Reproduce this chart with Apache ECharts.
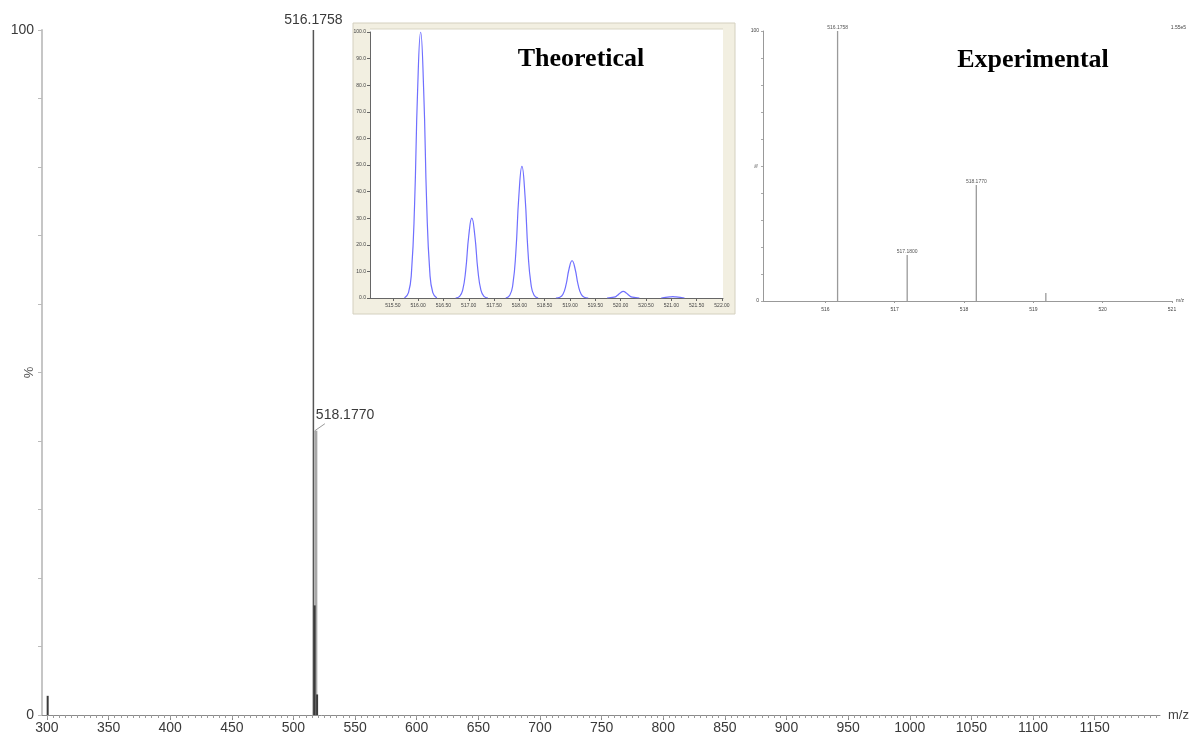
<!DOCTYPE html>
<html><head><meta charset="utf-8">
<script src="https://cdn.jsdelivr.net/npm/echarts@6/dist/echarts.min.js"></script>
<style>html,body{margin:0;padding:0;background:#fff}#c{width:1198px;height:738px}</style>
</head><body><div id="c"></div>
<script>
// ---------- Main spectrum ----------
const mainXTicks = [300,350,400,450,500,550,600,650,700,750,800,850,900,950,1000,1050,1100,1150];
const mainYLabels = [0,100];
const mainPeaks = [[300.6,2.8],[518.1770,41.5],[516.1758,100],[517.1800,16],[519.18,3]];
const mainLabeled = [516.1758,518.1770];

// ---------- Theoretical inset ----------
const theoXTicks = [515.5,516,516.5,517,517.5,518,518.5,519,519.5,520,520.5,521,521.5,522];
const theoYTicks = [0,10,20,30,40,50,60,70,80,90,100];
const theoPeak1 = [[515.73,0],[515.81,2],[515.87,10],[515.93,35],[515.99,78],[516.05,100],[516.11,78],[516.17,35],[516.23,10],[516.29,2],[516.37,0]];
const theoPeak2 = [[516.74,0],[516.82,0.6],[516.88,3],[516.94,10.5],[517.00,23.4],[517.06,30],[517.12,23.4],[517.18,10.5],[517.24,3],[517.30,0.6],[517.38,0]];
const theoPeak3 = [[517.73,0],[517.81,1],[517.87,5],[517.93,17.3],[517.99,38.6],[518.05,49.5],[518.11,38.6],[518.17,17.3],[518.23,5],[518.29,1],[518.37,0]];
const theoPeak4 = [[518.72,0],[518.80,0.3],[518.86,1.4],[518.92,4.9],[518.98,10.9],[519.04,14],[519.10,10.9],[519.16,4.9],[519.22,1.4],[519.28,0.3],[519.36,0]];
const theoPeak5 = [[519.73,0],[519.87,0.3],[519.93,0.9],[519.99,1.9],[520.05,2.5],[520.11,1.9],[520.17,0.9],[520.23,0.3],[520.37,0]];
const theoPeak6 = [[520.80,0],[520.97,0.4],[521.03,0.5],[521.09,0.4],[521.26,0]];

// ---------- Experimental inset ----------
const expXTicks = [516,517,518,519,520,521];
const expYTicks = [0,10,20,30,40,50,60,70,80,90,100];
const expYLabels = [0,100];
const expPeaks = [[516.1758,100],[517.1800,17],[518.1770,43],[519.18,3]];
const expLabeled = [516.1758,517.1800,518.1770];
const expScaleText = '1.55e5';

const mainMinor = [];
for (let v = 300; v <= 1200; v += 5) mainMinor.push(v);

const SANS = 'Liberation Sans, Arial, sans-serif';
const SERIF = 'Liberation Serif, Times New Roman, serif';

function mainStyle(mz) {
  if (Math.abs(mz - 518.177) < 0.01) return {stroke:'#a8a8a8', lineWidth:3};
  if (Math.abs(mz - 516.1758) < 0.01) return {stroke:'#555', lineWidth:1.5};
  return {stroke:'#3a3a3a', lineWidth:2};
}

const chart = echarts.init(document.getElementById('c'), null, {renderer:'canvas'});
const theoPeaks = [theoPeak1,theoPeak2,theoPeak3,theoPeak4,theoPeak5,theoPeak6];

chart.setOption({
  animation:false,
  backgroundColor:'#fff',
  grid:[
    {left:42, top:30, width:1118, height:685, containLabel:false, outerBoundsMode:'none'},
    {left:370, top:32, width:353, height:266, containLabel:false, outerBoundsMode:'none'},
    {left:763, top:31, width:409, height:270, containLabel:false, outerBoundsMode:'none'}
  ],
  graphic:[
    {type:'rect', z:-10, shape:{x:353,y:23,width:382,height:291}, style:{fill:'#F2EFE1', stroke:'#d4d0bf', lineWidth:1}},
    {type:'rect', z:-9, shape:{x:370,y:29,width:353,height:269}, style:{fill:'#fff'}},
    {type:'line', z:-8, shape:{x1:370,y1:29,x2:723,y2:29}, style:{stroke:'#d9d5c3', lineWidth:1}},
    {type:'text', x:581, y:59, style:{text:'Theoretical', font:'bold 26px '+SERIF, fill:'#000', align:'center', verticalAlign:'middle'}},
    {type:'text', x:1033, y:60, style:{text:'Experimental', font:'bold 26px '+SERIF, fill:'#000', align:'center', verticalAlign:'middle'}},
    {type:'text', x:1186, y:28, style:{text:expScaleText, font:'5px '+SANS, fill:'#444', align:'right', verticalAlign:'middle'}}
  ],
  xAxis:[
    {type:'value', gridIndex:0, min:296, max:1203, position:'bottom',
     axisLine:{onZero:false, lineStyle:{color:'#8a8a8a', width:1}},
     axisTick:{customValues:mainXTicks, length:5, lineStyle:{color:'#8a8a8a'}},
     axisLabel:{customValues:mainXTicks, fontSize:14, color:'#3a3a3a', fontFamily:SANS, margin:6, formatter:v=>String(v)},
     splitLine:{show:false},
     name:'m/z', nameLocation:'end', nameGap:8, nameTextStyle:{fontSize:13, color:'#444', fontFamily:SANS}},
    {type:'value', gridIndex:0, min:296, max:1203, position:'bottom',
     axisLine:{show:false, onZero:false},
     axisTick:{customValues:mainMinor, length:3, lineStyle:{color:'#9a9a9a'}},
     axisLabel:{show:false}, splitLine:{show:false}},
    {type:'value', gridIndex:1, min:515.05, max:522.02, position:'bottom',
     axisLine:{onZero:false, lineStyle:{color:'#666', width:1}},
     axisTick:{customValues:theoXTicks, length:3, lineStyle:{color:'#666'}},
     axisLabel:{customValues:theoXTicks, fontSize:5, color:'#444', fontFamily:SANS, margin:5, formatter:v=>v.toFixed(2)},
     splitLine:{show:false}},
    {type:'value', gridIndex:2, min:515.1, max:521.0, position:'bottom',
     axisLine:{onZero:false, lineStyle:{color:'#999', width:1}},
     axisTick:{customValues:expXTicks, length:2, lineStyle:{color:'#999'}},
     axisLabel:{customValues:expXTicks, fontSize:5, color:'#444', fontFamily:SANS, margin:6, formatter:v=>String(v)},
     splitLine:{show:false},
     name:'m/z', nameLocation:'end', nameGap:4, nameTextStyle:{fontSize:5, color:'#444', fontFamily:SANS}}
  ],
  yAxis:[
    {type:'value', gridIndex:0, min:0, max:100,
     axisLine:{show:true, lineStyle:{color:'#c6c6c6', width:2}},
     axisTick:{show:true, customValues:[0,10,20,30,40,50,60,70,80,90,100], length:4, lineStyle:{color:'#bbb'}},
     axisLabel:{customValues:mainYLabels, fontSize:14, color:'#3a3a3a', fontFamily:SANS, margin:8},
     splitLine:{show:false},
     name:'%', nameLocation:'middle', nameGap:6, nameRotate:90, nameMoveOverlap:false,
     nameTextStyle:{fontSize:13, color:'#555', fontFamily:SANS}},
    {type:'value', gridIndex:1, min:0, max:100,
     axisLine:{show:true, lineStyle:{color:'#666', width:1}},
     axisTick:{show:true, customValues:theoYTicks, length:3, lineStyle:{color:'#666'}},
     axisLabel:{customValues:theoYTicks, fontSize:5, color:'#444', fontFamily:SANS, margin:4, formatter:v=>v.toFixed(1)},
     splitLine:{show:false}},
    {type:'value', gridIndex:2, min:0, max:100,
     axisLine:{show:true, lineStyle:{color:'#999', width:1}},
     axisTick:{show:true, customValues:expYTicks, length:2, lineStyle:{color:'#aaa'}},
     axisLabel:{customValues:expYLabels, fontSize:5, color:'#444', fontFamily:SANS, margin:4},
     splitLine:{show:false},
     name:'%', nameLocation:'middle', nameGap:4, nameRotate:90, nameMoveOverlap:false,
     nameTextStyle:{fontSize:5, color:'#555', fontFamily:SANS}}
  ],
  series:[
    {type:'custom', coordinateSystem:'cartesian2d', xAxisIndex:0, yAxisIndex:0, data:mainPeaks, clip:false, z:5,
     renderItem:function(params, api){
       const x = api.value(0), y = api.value(1);
       const p0 = api.coord([x,0]), p1 = api.coord([x,y]);
       const children = [{type:'line', shape:{x1:p0[0],y1:p0[1],x2:p1[0],y2:p1[1]}, style:mainStyle(x)}];
       if (Math.abs(x - mainLabeled[0]) < 0.001) {
         children.push({type:'text', x:p1[0], y:p1[1]-3, style:{text:x.toFixed(4), font:'14px '+SANS, fill:'#3a3a3a', align:'center', verticalAlign:'bottom'}});
       } else if (Math.abs(x - mainLabeled[1]) < 0.001) {
         children.push({type:'line', shape:{x1:p1[0]-1,y1:p1[1],x2:p1[0]+9,y2:p1[1]-7}, style:{stroke:'#999', lineWidth:1}});
         children.push({type:'text', x:p1[0], y:p1[1]-9, style:{text:x.toFixed(4), font:'14px '+SANS, fill:'#3a3a3a', align:'left', verticalAlign:'bottom'}});
       }
       return {type:'group', children:children};
     }},
    ...theoPeaks.map(pk => ({type:'line', xAxisIndex:2, yAxisIndex:1, data:pk, smooth:true, showSymbol:false, symbol:'none', z:4,
      lineStyle:{color:'#6f6fff', width:1.2}})),
    {type:'custom', coordinateSystem:'cartesian2d', xAxisIndex:3, yAxisIndex:2, data:expPeaks, clip:false, z:5,
     renderItem:function(params, api){
       const x = api.value(0), y = api.value(1);
       const p0 = api.coord([x,0]), p1 = api.coord([x,y]);
       const children = [{type:'line', shape:{x1:p0[0],y1:p0[1],x2:p1[0],y2:p1[1]}, style:{stroke:'#9a9a9a', lineWidth:1.3}}];
       if (expLabeled.some(v => Math.abs(v - x) < 0.001)) {
         children.push({type:'text', x:p1[0], y:p1[1]-1, style:{text:x.toFixed(4), font:'5px '+SANS, fill:'#555', align:'center', verticalAlign:'bottom'}});
       }
       return {type:'group', children:children};
     }}
  ]
});
</script>
</body></html>
